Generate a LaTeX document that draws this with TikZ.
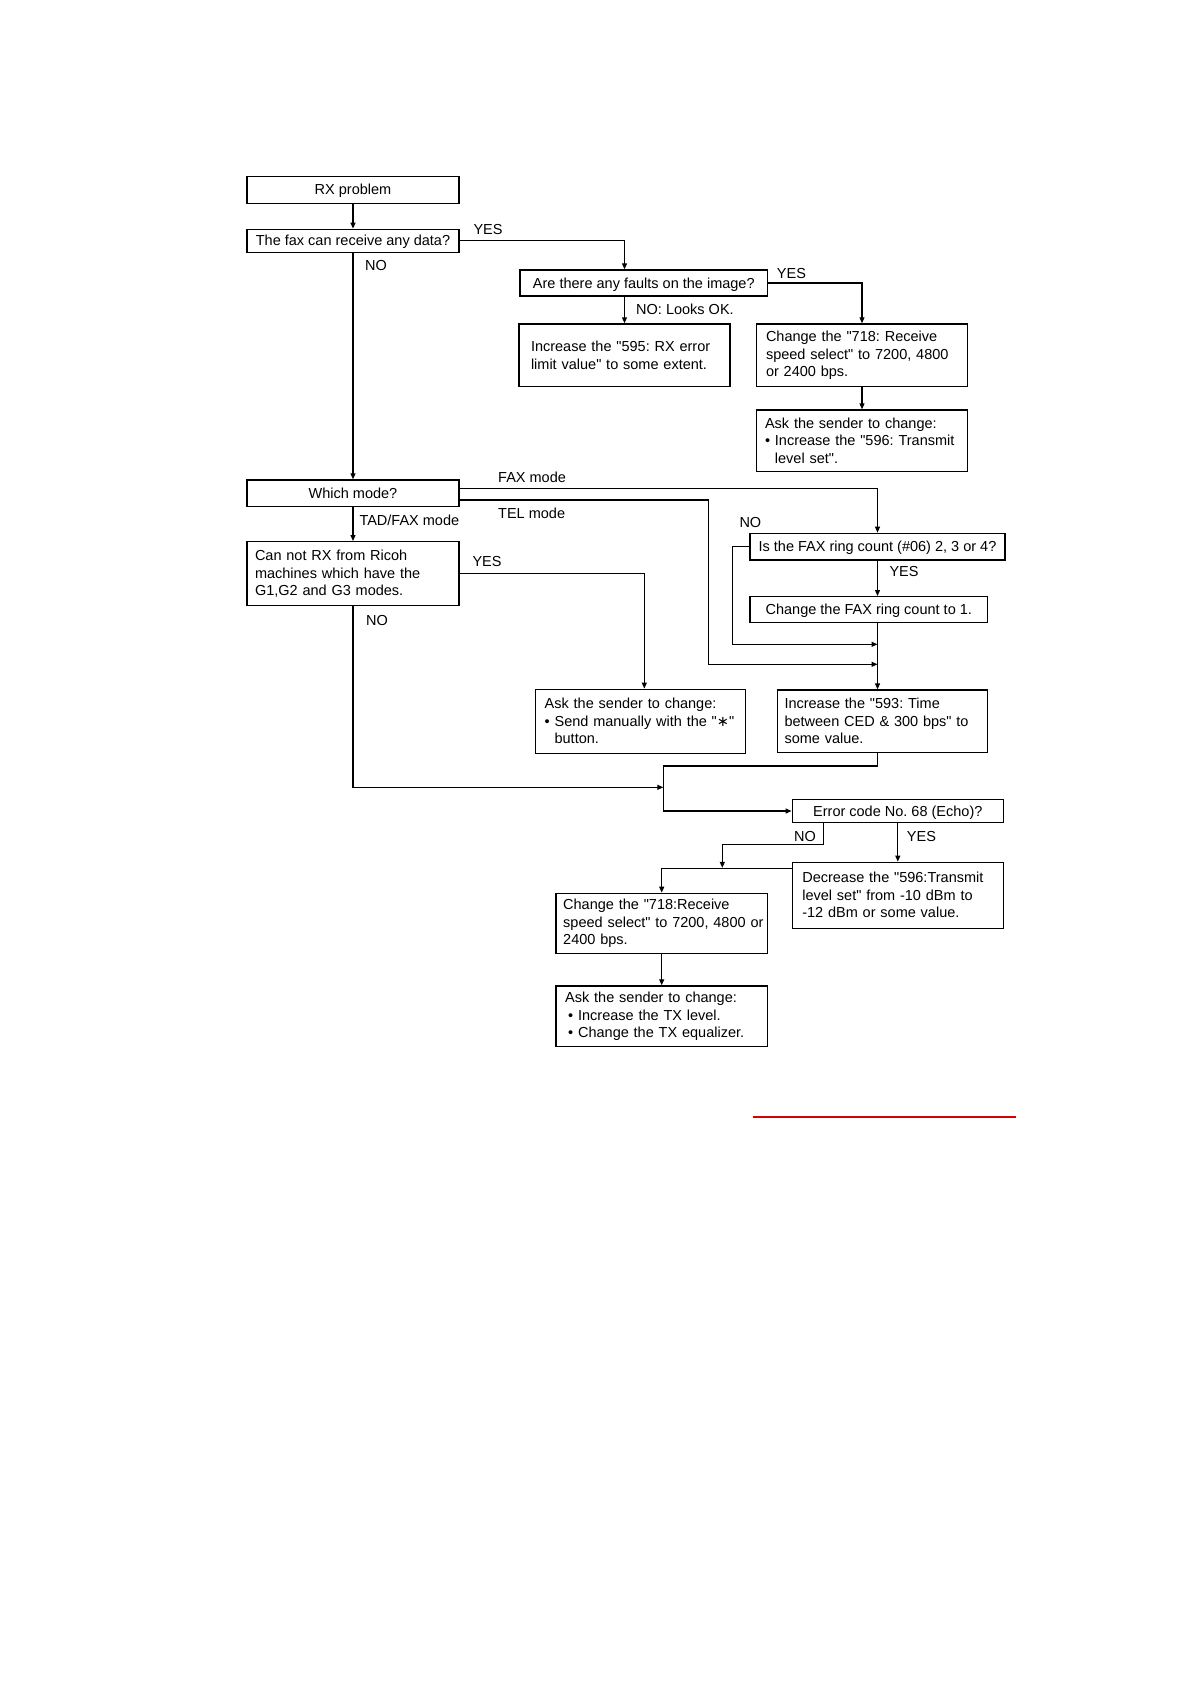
\documentclass[tikz,border=0pt]{standalone}
\usepackage{fontspec}
\setmainfont{Liberation Sans}[Ligatures=TeXOff]
\newfontfamily\djvfont{DejaVu Sans}
\usetikzlibrary{arrows.meta,calc}
\frenchspacing
\begin{document}
\begin{tikzpicture}[x=1pt,y=-1pt,
  box/.style={draw, line width=1.4pt, inner sep=0pt, font=\fontsize{14.5}{17.5}\selectfont\frenchspacing},
  sbox/.style={box, text height=10pt, text depth=0pt},
  tbox/.style={box, align=left},
  lbl/.style={anchor=west, inner sep=0pt, font=\fontsize{14.5}{17.5}\selectfont},
  conn/.style={line width=1.2pt},
  arr/.style={conn, -{Triangle[length=6pt,width=5pt]}}]
\fill[white] (0,0) rectangle (1190,1682);
\useasboundingbox (0,0) rectangle (1190,1682);

% boxes
\node[sbox, minimum width=212pt, minimum height=27pt] (rx) at (353,189.7) {RX problem};
\node[sbox, minimum width=212pt, minimum height=23pt] (fax) at (353,240.8) {The fax can receive any data?};
\node[sbox, minimum width=247.7pt, minimum height=26pt] (faults) at (643.8,283) {Are there any faults on the image?};
\node[tbox, minimum width=211pt, minimum height=62.7pt, text width=187pt] (inc595) at (624.5,355.3) {Increase the "595: RX error\\limit value" to some extent.};
\node[tbox, minimum width=210.6pt, minimum height=62.7pt, text width=192pt] (ch718) at (862,355.3) {Change the "718: Receive\\\mbox{speed select" to 7200, 4800}\\or 2400 bps.};
\node[tbox, minimum width=210.6pt, minimum height=61.7pt, text width=194pt] (ask1) at (862,440.8) {Ask the sender to change:\\\mbox{• Increase the "596: Transmit}\\\hphantom{• }level set".};
\node[sbox, minimum width=212pt, minimum height=26.7pt] (which) at (353,493.3) {Which mode?};
\node[tbox, minimum width=212pt, minimum height=64pt, text width=196pt] (cannot) at (353,573.7) {Can not RX from Ricoh\\machines which have the\\G1,G2 and G3 modes.};
\node[tbox, minimum width=210pt, minimum height=64pt, text width=192pt] (ask2) at (640.7,721.3) {Ask the sender to change:\\\mbox{• Send manually with the "{\djvfont ∗}"}\\\hphantom{• }button.};
\node[sbox, minimum width=255pt, minimum height=26.7pt] (isring) at (877.5,546.7) {Is the FAX ring count (\#06) 2, 3 or 4?};
\node[sbox, minimum width=237.7pt, minimum height=25.6pt] (chring) at (868.8,609.5) {Change the FAX ring count to 1.};
\node[tbox, minimum width=210.4pt, minimum height=62.3pt, text width=196pt] (inc593) at (882.5,721.2) {Increase the "593: Time\\\mbox{between CED \& 300 bps" to}\\some value.};
\node[sbox, minimum width=211pt, minimum height=23.4pt] (error) at (897.8,811) {Error code No. 68 (Echo)?};
\node[tbox, minimum width=211pt, minimum height=66pt, text width=191pt] (decr) at (897.8,895.3) {Decrease the "596:Transmit\\\mbox{level set" from -10 dBm to}\\-12 dBm or some value.};
\node[tbox, minimum width=211.3pt, minimum height=60pt, text width=197pt] (ch718b) at (661.7,923.3) {Change the "718:Receive\\\mbox{speed select" to 7200, 4800 or}\\2400 bps.};
\node[tbox, minimum width=211.3pt, minimum height=60.7pt, text width=193pt] (ask3) at (661.7,1016.3) {Ask the sender to change:\\\hspace*{3pt}• Increase the TX level.\\\hspace*{3pt}• Change the TX equalizer.};

% helper coordinates
\coordinate (m1) at (877.5,644.3);
\coordinate (m2) at (877.5,664.3);
\coordinate (tel) at (708.3,664.3);
\coordinate (nox) at (732.3,644.3);
\coordinate (j1) at (663.3,766);
\coordinate (j2) at (663.3,787.3);
\coordinate (k) at (722.3,844.7);
\coordinate (dl) at (661.7,869.3);

% connectors
\draw[arr] (rx) -- (fax);
\draw[arr] (fax.east) -| (faults.north -| inc595.north);
\draw[arr] (faults.south -| inc595.north) -- (inc595.north);
\draw[arr] (faults.east) -| (ch718.north);
\draw[arr] (ch718) -- (ask1);
\draw[arr] (fax) -- (which);
\draw[arr] ($(which.east)+(0,-5)$) -| (isring.north);
\draw[arr] ($(which.east)+(0,6.7)$) -| (tel) -- (m2);
\draw[arr] (which) -- (cannot);
\draw[arr] (cannot.east) -| ($(ask2.north)+(3.6,0)$);
\draw[arr] (isring.west) -| (nox) -- (m1);
\draw[arr] (isring.south) -- (isring.south |- chring.north);
\draw[arr] (isring.south |- chring.south) -- (isring.south |- inc593.north);
\draw[arr] (isring.south |- inc593.south) |- (j1) |- (error.west);
\draw[arr] (cannot.south) |- (j2);
\draw[arr] ($(error.south west)+(32,0)$) |- (k) -- ($(k |- dl)+(0,-1.5)$);
\draw[arr] ($(decr.north west)+(0,7)$) -| (ch718b.north);
\draw[arr] (error) -- (decr);
\draw[arr] (ch718b) -- (ask3);

% labels
\node[lbl] (l1) at (473.3,229.3) {YES};
\node[lbl] (l2) at (365,266) {NO};
\node[lbl] (l3) at (776.7,274) {YES};
\node[lbl] (l4) at (636,309.3) {NO: Looks OK.};
\node[lbl] (l5) at (498,477.3) {FAX mode};
\node[lbl] (l6) at (498,513.3) {TEL mode};
\node[lbl] (l7) at (359.3,520) {TAD/FAX mode};
\node[lbl] (l8) at (472.3,561.7) {YES};
\node[lbl] (l9) at (366,620) {NO};
\node[lbl] (l10) at (739.3,522.7) {NO};
\node[lbl] (l11) at (889.3,571.7) {YES};
\node[lbl] (l12) at (794,836.7) {NO};
\node[lbl] (l13) at (906.7,836.7) {YES};

% red rule
\coordinate (r1) at (753.3,1117);
\coordinate (r2) at (1015.7,1117);
\draw[red!85!black, line width=1.2pt] (r1) -- (r2);
\end{tikzpicture}
\end{document}
